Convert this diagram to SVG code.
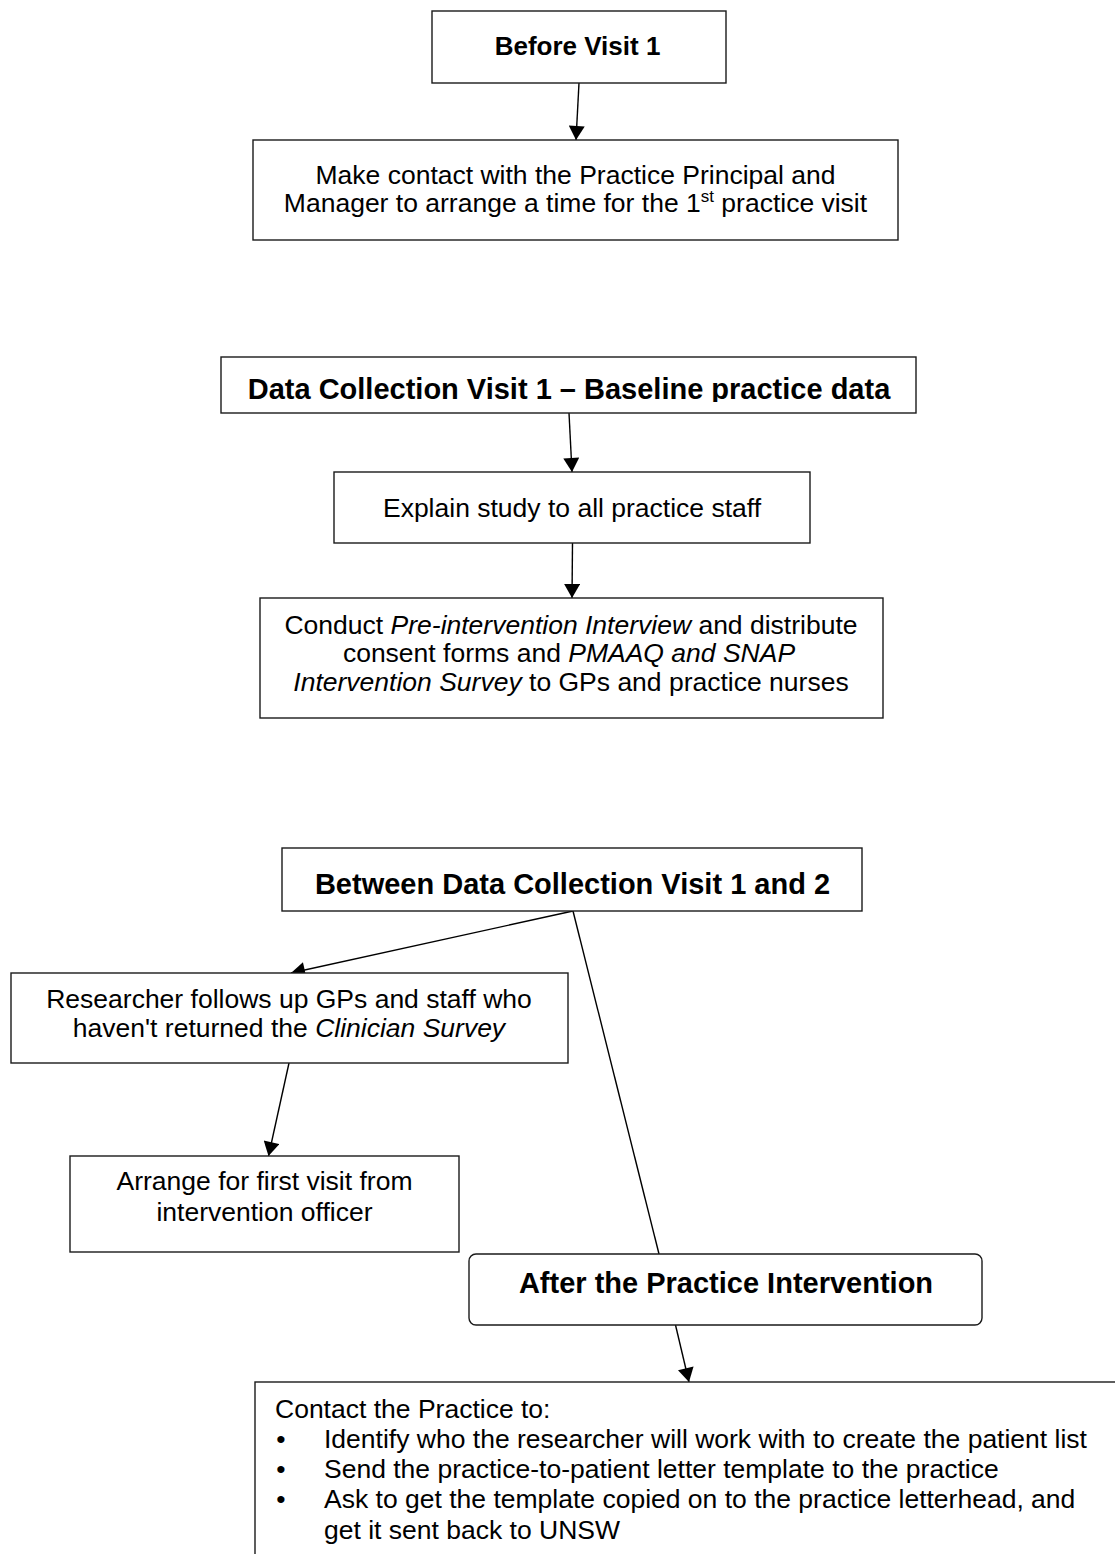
<svg xmlns="http://www.w3.org/2000/svg" width="1115" height="1554" viewBox="0 0 1115 1554">
<style>
.box{fill:#fff;stroke:#1a1a1a;stroke-width:1.4}
.t{font-family:"Liberation Sans",Arial,sans-serif;font-size:26.5px;fill:#000}
.h{font-family:"Liberation Sans",Arial,sans-serif;font-size:29px;font-weight:bold;fill:#000}
.i{font-style:italic}
.c{text-anchor:middle}
.ln{stroke:#000;stroke-width:1.4;fill:none}
</style>
<defs>
<marker id="ah" markerUnits="userSpaceOnUse" markerWidth="16" markerHeight="16" viewBox="0 0 14 16" refX="14" refY="8" orient="auto">
<path d="M0,0 L14,8 L0,16 z" fill="#000"/>
</marker>
<clipPath id="clipData"><rect x="221" y="357" width="695" height="45"/></clipPath>
</defs>
<rect width="1115" height="1554" fill="#fff"/>

<g id="connectors">
<line class="ln" x1="579" y1="83" x2="576" y2="140" marker-end="url(#ah)"/>
<line class="ln" x1="569" y1="413" x2="572" y2="472" marker-end="url(#ah)"/>
<line class="ln" x1="572.5" y1="543" x2="572" y2="598" marker-end="url(#ah)"/>
<line class="ln" x1="573" y1="911" x2="291" y2="973" marker-end="url(#ah)"/>
<line class="ln" x1="573" y1="911" x2="659" y2="1254"/>
<line class="ln" x1="289" y1="1063" x2="268.5" y2="1156" marker-end="url(#ah)"/>
<line class="ln" x1="675.5" y1="1325" x2="689" y2="1382" marker-end="url(#ah)"/>
</g>

<g id="before-visit-1">
<rect class="box" x="432" y="11" width="294" height="72"/>
<text class="h c" x="577.5" y="55" style="font-size:26px">Before Visit 1</text>
</g>

<g id="make-contact">
<rect class="box" x="253" y="140" width="645" height="100"/>
<text class="t c" x="575.5" y="184">Make contact with the Practice Principal and</text>
<text class="t c" x="575.5" y="212">Manager to arrange a time for the 1<tspan font-size="17" dy="-10">st</tspan><tspan dy="10"> practice visit</tspan></text>
</g>

<g id="data-collection-visit-1">
<rect class="box" x="221" y="357" width="695" height="56"/>
<text class="h c" x="569" y="399" clip-path="url(#clipData)">Data Collection Visit 1 – Baseline practice data</text>
</g>

<g id="explain-study">
<rect class="box" x="334" y="472" width="476" height="71"/>
<text class="t c" x="572" y="517">Explain study to all practice staff</text>
</g>

<g id="conduct-interview">
<rect class="box" x="260" y="598" width="623" height="120"/>
<text class="t c" x="571" y="634">Conduct <tspan class="i">Pre-intervention Interview</tspan> and distribute</text>
<text class="t c" x="569" y="662">consent forms and <tspan class="i">PMAAQ and SNAP</tspan></text>
<text class="t c" x="571" y="691"><tspan class="i">Intervention Survey</tspan> to GPs and practice nurses</text>
</g>

<g id="between-visits">
<rect class="box" x="282" y="848" width="580" height="63"/>
<text class="h c" x="572.5" y="894">Between Data Collection Visit 1 and 2</text>
</g>

<g id="researcher-follows-up">
<rect class="box" x="11" y="973" width="557" height="90"/>
<text class="t c" x="289" y="1008">Researcher follows up GPs and staff who</text>
<text class="t c" x="289" y="1037">haven't returned the <tspan class="i">Clinician Survey</tspan></text>
</g>

<g id="arrange-first-visit">
<rect class="box" x="70" y="1156" width="389" height="96"/>
<text class="t c" x="264.5" y="1190">Arrange for first visit from</text>
<text class="t c" x="264.5" y="1221">intervention officer</text>
</g>

<g id="after-intervention">
<rect class="box" x="469" y="1254" width="513" height="71" rx="7" ry="7"/>
<text class="h c" x="726" y="1293">After the Practice Intervention</text>
</g>

<g id="contact-practice">
<rect class="box" x="255" y="1382" width="880" height="200"/>
<text class="t" x="275" y="1418">Contact the Practice to:</text>
<text class="t c" x="281" y="1448">•</text>
<text class="t" x="324" y="1448">Identify who the researcher will work with to create the patient list</text>
<text class="t c" x="281" y="1478">•</text>
<text class="t" x="324" y="1478">Send the practice-to-patient letter template to the practice</text>
<text class="t c" x="281" y="1508">•</text>
<text class="t" x="324" y="1508">Ask to get the template copied on to the practice letterhead, and</text>
<text class="t" x="324" y="1539">get it sent back to UNSW</text>
</g>
</svg>
